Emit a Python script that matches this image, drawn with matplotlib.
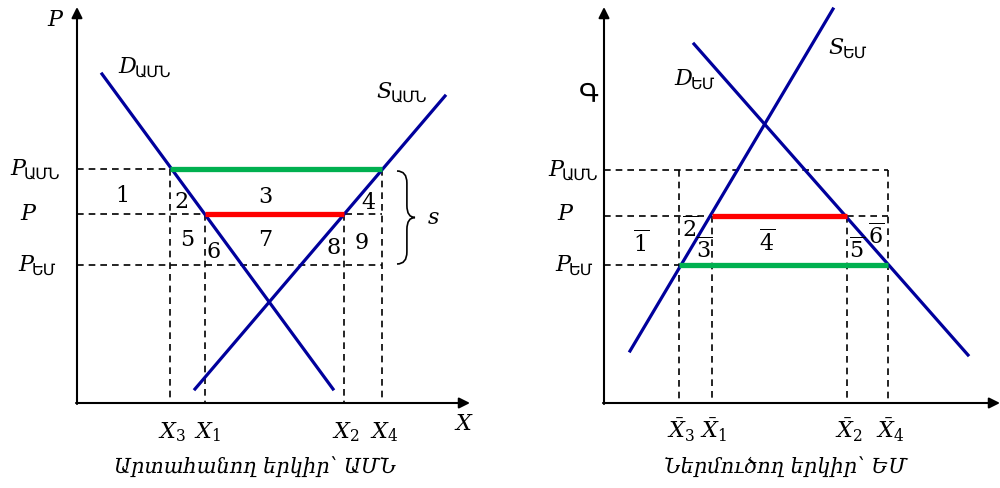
import matplotlib
matplotlib.use("Agg")
import matplotlib.pyplot as plt
from matplotlib.path import Path
from matplotlib.patches import PathPatch

plt.rcParams['font.family'] = ['DejaVu Serif', 'DejaVu Sans']
plt.rcParams['mathtext.fontset'] = 'dejavuserif'

BLUE = '#00009c'
GREEN = '#00b050'
RED = '#ff0000'

# --- left panel: exporter (USA), pixel-like units, y grows downward ---
us_origin = (77, 404)
us_axis_end = (470, 8)
us_prices = [170, 215, 266]          # P_USA, P, P_EU
us_qty = [170, 205, 344, 382]        # X3, X1, X2, X4
us_demand_x = [102, 333]
us_demand_y = [75, 390]
us_supply_x = [195, 445]
us_supply_y = [390, 97]
us_areas = ['1', '2', '3', '4', '5', '6', '7', '8', '9']
us_area_pos = [(122, 196), (182, 202), (265, 197), (368, 203),
               (187, 240), (214, 252), (265, 240), (334, 248), (362, 243)]

# --- right panel: importer (EU) ---
eu_origin = (604, 404)
eu_axis_end = (1000, 8)
eu_prices = [171, 217, 266]
eu_qty = [679, 712, 847, 888]
eu_supply_x = [630, 833]
eu_supply_y = [352, 10]
eu_demand_x = [694, 968]
eu_demand_y = [45, 356]
eu_areas = [r'$\overline{1}$', r'$\overline{2}$', r'$\overline{3}$',
            r'$\overline{4}$', r'$\overline{5}$', r'$\overline{6}$']
eu_area_pos = [(641, 244), (690, 229), (704, 250), (767, 243), (857, 250), (876, 236)]

fig = plt.figure(figsize=(10, 4.89), dpi=100)
ax = fig.add_axes([0, 0, 1, 1])
ax.set_xlim(0, 1000)
ax.set_ylim(489, 0)
ax.axis('off')

dash = dict(color='black', lw=1.2, ls=(0, (4, 3)))


def axes_arrows(origin, end):
    ox, oy = origin
    ex, ey = end
    ax.annotate('', xy=(ox, ey), xytext=(ox, oy + 1),
                arrowprops=dict(arrowstyle='-|>', lw=1.5, color='black',
                                mutation_scale=16, shrinkA=0, shrinkB=0))
    ax.annotate('', xy=(ex, oy), xytext=(ox - 1, oy),
                arrowprops=dict(arrowstyle='-|>', lw=1.5, color='black',
                                mutation_scale=16, shrinkA=0, shrinkB=0))


def sub_label(x, y, main, sub, size=16, ha='left'):
    t = ax.text(x, y, main, fontsize=size, style='italic', va='center', ha=ha)
    fig.canvas.draw()
    bb = t.get_window_extent()
    inv = ax.transData.inverted()
    x1, _ = inv.transform((bb.x1, bb.y0))
    ax.text(x1 - 1, y + 6, sub, fontsize=size * 0.72, va='center', ha='left',
            family=['DejaVu Sans'])


def brace(x, top, bottom, width=18):
    mid = (top + bottom) / 2
    w = width
    verts = [(x, top), (x + w * 0.55, top), (x + w * 0.55, top + 12),
             (x + w * 0.55, mid - 12),
             (x + w * 0.55, mid), (x + w, mid),
             (x + w * 0.55, mid), (x + w * 0.55, mid + 12),
             (x + w * 0.55, bottom - 12),
             (x + w * 0.55, bottom), (x, bottom)]
    codes = [Path.MOVETO, Path.CURVE3, Path.CURVE3, Path.LINETO,
             Path.CURVE3, Path.CURVE3, Path.CURVE3, Path.CURVE3,
             Path.LINETO, Path.CURVE3, Path.CURVE3]
    ax.add_patch(PathPatch(Path(verts, codes), fill=False, lw=1.2, color='black'))


# ---------- left panel ----------
ox, oy = us_origin
p_us, p_w, p_eu = us_prices
x3, x1, x2, x4 = us_qty
for p in us_prices:
    ax.plot([ox, x4], [p, p], **dash)
ax.plot([x3, x3], [p_us, oy], **dash)
ax.plot([x4, x4], [p_us, oy], **dash)
ax.plot([x1, x1], [p_w, oy], **dash)
ax.plot([x2, x2], [p_w, oy], **dash)
ax.plot(us_demand_x, us_demand_y, color=BLUE, lw=2.3)
ax.plot(us_supply_x, us_supply_y, color=BLUE, lw=2.3)
ax.plot([x3, x4], [p_us, p_us], color=GREEN, lw=3.8, solid_capstyle='butt')
ax.plot([x1, x2], [p_w, p_w], color=RED, lw=3.8, solid_capstyle='butt')
axes_arrows(us_origin, us_axis_end)
brace(397, p_us + 2, p_eu - 1)
ax.text(433, 218, 's', fontsize=16, style='italic', ha='center', va='center')

for lab, (x, y) in zip(us_areas, us_area_pos):
    ax.text(x, y, lab, fontsize=16, ha='center', va='center')

ax.text(55, 20, 'P', fontsize=16, style='italic', ha='center', va='center')
sub_label(118, 67, 'D', 'ԱՄՆ')
sub_label(376, 92, 'S', 'ԱՄՆ')
sub_label(10, 169, 'P', 'ԱՄՆ')
ax.text(28, 214, 'P', fontsize=16, style='italic', ha='center', va='center')
sub_label(18, 265, 'P', 'ԵՄ')
for lab, x in zip(['$X_3$', '$X_1$', '$X_2$', '$X_4$'], us_qty):
    ax.text(x + 2, 432, lab, fontsize=16, ha='center', va='center')
ax.text(464, 424, '$X$', fontsize=16, ha='center', va='center')
ax.text(255, 467, 'Արտահանող երկիր՝ ԱՄՆ', fontsize=15, style='italic',
        ha='center', va='center')

# ---------- right panel ----------
ox, oy = eu_origin
p_us, p_w, p_eu = eu_prices
x3, x1, x2, x4 = eu_qty
ax.plot([ox, x4], [p_us, p_us], **dash)
ax.plot([ox, x1], [p_w, p_w], **dash)
ax.plot([x2, x4], [p_w, p_w], **dash)
ax.plot([ox, x3], [p_eu, p_eu], **dash)
ax.plot([x3, x3], [p_us, oy], **dash)
ax.plot([x4, x4], [p_us, oy], **dash)
ax.plot([x1, x1], [p_w, oy], **dash)
ax.plot([x2, x2], [p_w, oy], **dash)
ax.plot(eu_supply_x, eu_supply_y, color=BLUE, lw=2.3)
ax.plot(eu_demand_x, eu_demand_y, color=BLUE, lw=2.3)
ax.plot([x3, x4], [p_eu, p_eu], color=GREEN, lw=3.8, solid_capstyle='butt')
ax.plot([x1, x2], [p_w, p_w], color=RED, lw=3.8, solid_capstyle='butt')
axes_arrows(eu_origin, eu_axis_end)

for lab, (x, y) in zip(eu_areas, eu_area_pos):
    ax.text(x, y, lab, fontsize=16, ha='center', va='center')

ax.text(589, 94, 'Գ', fontsize=19, ha='center', va='center', family=['DejaVu Sans'])
sub_label(674, 79, 'D', 'ԵՄ')
sub_label(828, 48, 'S', 'ԵՄ')
sub_label(548, 170, 'P', 'ԱՄՆ')
ax.text(565, 214, 'P', fontsize=16, style='italic', ha='center', va='center')
sub_label(555, 265, 'P', 'ԵՄ')
for lab, x in zip([r'$\bar{X}_3$', r'$\bar{X}_1$', r'$\bar{X}_2$', r'$\bar{X}_4$'], eu_qty):
    ax.text(x + 2, 430, lab, fontsize=16, ha='center', va='center')
ax.text(786, 467, 'Ներմուծող երկիր՝ ԵՄ', fontsize=15, style='italic',
        ha='center', va='center')

fig.savefig('out.png', dpi=100)
